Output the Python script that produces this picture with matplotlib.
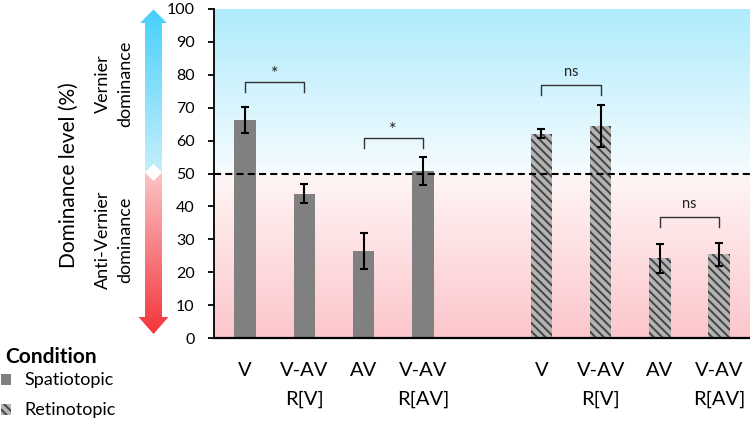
import numpy as np
import matplotlib
matplotlib.use("Agg")
import matplotlib.pyplot as plt
from matplotlib.patches import Polygon, Rectangle

plt.rcParams['font.family'] = ['Lato', 'DejaVu Sans']
plt.rcParams['hatch.linewidth'] = 1.4

# ---- data ----
categories = ['V', 'V-AV\nR[V]', 'AV', 'V-AV\nR[AV]']
spatio = [66.2, 43.8, 26.5, 50.7]
spatio_err = [4.0, 2.9, 5.5, 4.3]
retino = [62.1, 64.4, 24.2, 25.4]
retino_err = [1.3, 6.3, 4.3, 3.6]
yticks = list(range(0, 101, 10))
# significance brackets: (left position, right position, height, label)
brackets = [(0, 1, 77.7, '*'), (2, 3, 60.8, '*'), (5, 6, 76.8, 'ns'), (7, 8, 36.7, 'ns')]

spatio_pos = np.arange(4)
retino_pos = np.arange(4) + 5

W, H = 750, 421
fig = plt.figure(figsize=(W / 100, H / 100), dpi=100)
ax = fig.add_axes([214 / W, 1 - 338 / H, (W - 214) / W, (338 - 9) / H])
ax.set_facecolor('none')
xlim = (-0.523, 8.52)
ax.set_xlim(*xlim)
ax.set_ylim(0, 100)

# background gradient
n = 400
vals = np.linspace(0, 100, n)
bg = np.zeros((n, 1, 3))
top_c = np.array([175, 235, 252]) / 255
mid_b = np.array([246, 252, 255]) / 255
mid_r = np.array([255, 246, 246]) / 255
bot_c = np.array([252, 198, 203]) / 255
for i, v in enumerate(vals):
    if v >= 50:
        t = (v - 50) / 50
        bg[i, 0] = mid_b * (1 - t) + top_c * t
    else:
        t = (50 - v) / 50
        bg[i, 0] = mid_r * (1 - t) + bot_c * t
ax.imshow(bg, extent=[xlim[0], xlim[1], 0, 100], origin='lower', aspect='auto', zorder=0)
ax.set_xlim(*xlim)
ax.set_ylim(0, 100)

bw = 0.363
ax.bar(spatio_pos, spatio, width=bw, color='#808080', linewidth=0, zorder=2)
ax.bar(retino_pos, retino, width=bw, color='#B4B4B4', edgecolor='#444444',
       hatch='\\\\\\\\', linewidth=0, zorder=2)
ax.errorbar(spatio_pos, spatio, yerr=spatio_err, fmt='none', ecolor='black',
            elinewidth=1.5, capsize=3, capthick=1.5, zorder=3)
ax.errorbar(retino_pos, retino, yerr=retino_err, fmt='none', ecolor='black',
            elinewidth=1.5, capsize=3, capthick=1.5, zorder=3)

ax.axhline(50, color='black', lw=1.5, ls=(0, (3.4, 2)), zorder=4)

for x1, x2, y, lab in brackets:
    ax.plot([x1, x1, x2, x2], [y - 2.9, y, y, y - 2.9], color='#333333', lw=1, zorder=3)
    if lab == '*':
        ax.text((x1 + x2) / 2, y + 2.4, lab, ha='center', va='center',
                fontsize=13, color='#222222', zorder=3)
    else:
        ax.text((x1 + x2) / 2, y + 3.9, lab, ha='center', va='center',
                fontsize=10.5, color='#222222', zorder=3)

ax.set_yticks(yticks)
ax.set_yticklabels([str(t) for t in yticks], fontsize=11.5)
ax.tick_params(axis='y', direction='out', length=4, width=1.3, pad=10)
ax.set_xticks(list(spatio_pos) + list(retino_pos))
ax.set_xticklabels(categories + categories, fontsize=14.5, linespacing=1.85)
ax.tick_params(axis='x', length=0, pad=17)
for s in ['top', 'right']:
    ax.spines[s].set_visible(False)
ax.spines['left'].set_linewidth(1.3)
ax.spines['bottom'].set_linewidth(1.6)
ax.spines['left'].set_zorder(5)
ax.spines['bottom'].set_zorder(5)

# ---- overlay (pixel coords) ----
ov = fig.add_axes([0, 0, 1, 1], zorder=-1)
ov.set_facecolor('none')
ov.axis('off')

cx = 153.5
sw = 8.5
hw = 13.5
blue_poly = [(cx, 9.5), (cx + hw, 23), (cx + sw, 23), (cx + sw, 172.5), (cx, 164),
             (cx - sw, 172.5), (cx - sw, 23), (cx - hw, 23)]
red_poly = [(cx - sw, 172.5), (cx, 181), (cx + sw, 172.5), (cx + sw, 317), (cx + 15, 317),
            (cx, 334), (cx - 15, 317), (cx - sw, 317)]

def grad_fill(poly, c_top, c_bot, y0, y1):
    m = 200
    t = np.linspace(0, 1, m)[:, None]
    arr = (np.array(c_top)[None, :] * (1 - t) + np.array(c_bot)[None, :] * t) / 255
    arr = arr[:, None, :]
    im = ov.imshow(arr, extent=[cx - 20, cx + 20, y1, y0], origin='upper', aspect='auto')
    patch = Polygon(poly, closed=True, transform=ov.transData, facecolor='none', edgecolor='none')
    ov.add_patch(patch)
    im.set_clip_path(patch)

grad_fill(blue_poly, (70, 208, 250), (205, 241, 252), 9, 182)
grad_fill(red_poly, (252, 196, 198), (243, 52, 58), 172, 335)
ov.set_xlim(0, W)
ov.set_ylim(H, 0)

# texts
fig.text(68.5 / W, 1 - 175 / H, 'Dominance level (%)', rotation=90, ha='center', va='center',
         fontsize=15)
fig.text(114 / W, 1 - 84 / H, 'Vernier\ndominance', rotation=90, ha='center', va='center',
         fontsize=13, linespacing=1.45, multialignment='center')
fig.text(114 / W, 1 - 240 / H, 'Anti-Vernier\ndominance', rotation=90, ha='center', va='center',
         fontsize=13, linespacing=1.45, multialignment='center')

# legend
fig.text(5 / W, 1 - 357 / H, 'Condition', fontweight='bold', fontsize=15, ha='left', va='center')
fig.text(24 / W, 1 - 380 / H, 'Spatiotopic', fontsize=13, ha='left', va='center')
fig.text(24 / W, 1 - 410 / H, 'Retinotopic', fontsize=13, ha='left', va='center')
ov.add_patch(Rectangle((1, 374), 10, 11, facecolor='#808080', edgecolor='none'))
ov.add_patch(Rectangle((1, 404), 10, 11, facecolor='#B4B4B4', edgecolor='#444444',
                       hatch='\\\\\\\\', linewidth=0))

fig.savefig('out.png', dpi=100)
